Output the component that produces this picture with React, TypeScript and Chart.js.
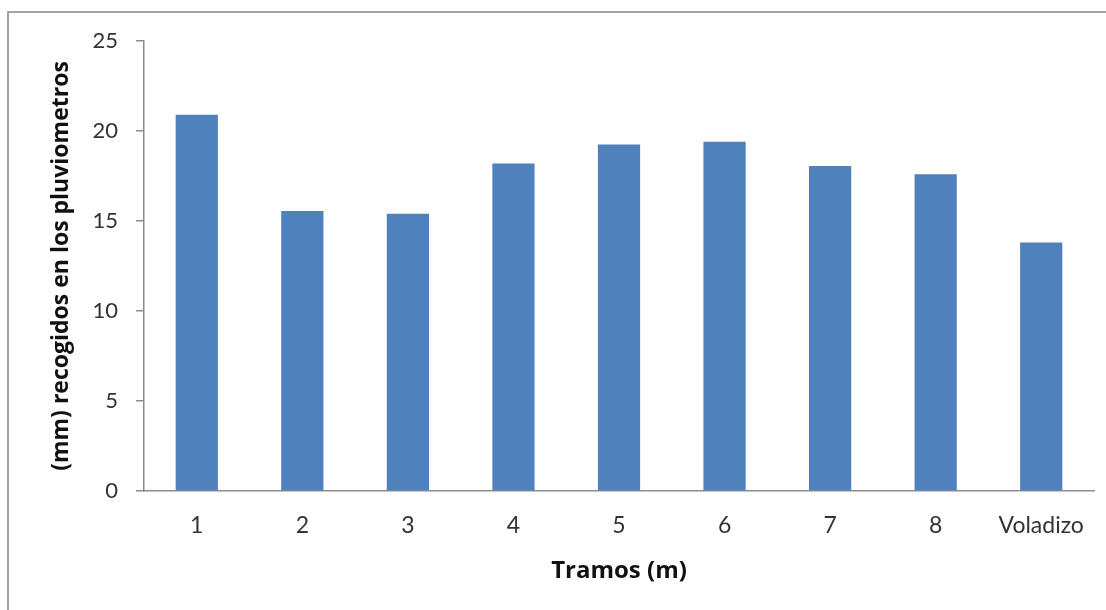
import React, { useEffect, useRef } from "react";
import { Chart, registerables } from "chart.js";

Chart.register(...registerables);

const categories = ["1", "2", "3", "4", "5", "6", "7", "8", "Voladizo"];
const values = [20.9, 15.55, 15.4, 18.2, 19.25, 19.4, 18.05, 17.6, 13.8];
const yTicks = [0, 5, 10, 15, 20, 25];
const xTitle = "Tramos (m)";
const yTitle = "(mm) recogidos en los pluviometros";

const W = 1106;
const H = 610;
const FONT = "Lato, 'Open Sans', sans-serif";
const BOLD_FONT = "'Open Sans', Lato, sans-serif";

export default function App() {
  const ref = useRef<HTMLCanvasElement | null>(null);

  useEffect(() => {
    if (!ref.current) return;
    const chart = new Chart(ref.current, {
      type: "bar",
      data: {
        labels: categories,
        datasets: [
          {
            data: values,
            backgroundColor: "#4F81BD",
            borderWidth: 0,
            categoryPercentage: 0.8,
            barPercentage: 0.5,
          },
        ],
      },
      options: {
        responsive: false,
        animation: false,
        layout: { padding: { top: 41, right: 12, left: 0, bottom: 0 } },
        plugins: { legend: { display: false }, tooltip: { enabled: false } },
        scales: {
          x: {
            grid: { display: false, drawTicks: false },
            border: { display: true, color: "#8c8c8c", width: 1.5 },
            ticks: {
              color: "#333",
              padding: 21,
              font: { family: FONT, size: 23 },
            },
            title: {
              display: true,
              text: xTitle,
              color: "#111",
              padding: { top: 0, bottom: 24 },
              font: { family: BOLD_FONT, size: 24, weight: "bold" },
            },
            afterFit: (s: any) => {
              s.height = H - 491;
            },
          },
          y: {
            min: 0,
            max: 25,
            afterBuildTicks: (s: any) => {
              s.ticks = yTicks.map((v) => ({ value: v }));
            },
            grid: {
              drawOnChartArea: false,
              drawTicks: true,
              tickLength: 8,
              color: "#8c8c8c",
              lineWidth: 1.5,
            },
            border: { display: true, color: "#8c8c8c", width: 1.5 },
            ticks: {
              color: "#333",
              padding: 18,
              font: { family: FONT, size: 22 },
            },
            title: {
              display: true,
              text: yTitle,
              color: "#111",
              padding: { top: 48, bottom: 0 },
              font: { family: BOLD_FONT, size: 23, weight: "bold" },
            },
            afterFit: (s: any) => {
              s.width = 144;
            },
          },
        },
      },
    });
    return () => chart.destroy();
  }, []);

  return (
    <div
      style={{
        position: "fixed",
        left: 0,
        top: 0,
        width: W,
        height: H,
        background: "#fff",
        overflow: "hidden",
      }}
    >
      <div
        style={{
          position: "absolute",
          left: 7,
          top: 11,
          width: W + 20,
          height: H + 20,
          borderLeft: "2px solid #a3a3a3",
          borderTop: "2px solid #a3a3a3",
        }}
      />
      <canvas
        ref={ref}
        width={W}
        height={H}
        style={{ position: "absolute", left: 0, top: 0, width: W, height: H }}
      />
    </div>
  );
}
